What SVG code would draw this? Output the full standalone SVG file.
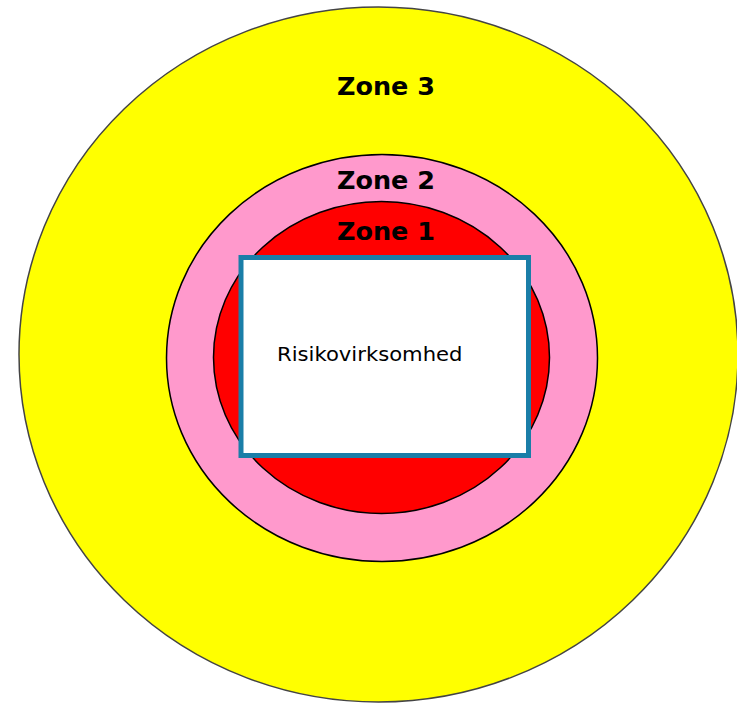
<svg xmlns="http://www.w3.org/2000/svg" width="737" height="703" viewBox="0 0 737 703">
<style>
.zone{font-family:"DejaVu Sans","Verdana",sans-serif;font-weight:bold;font-size:24px;fill:#000;text-anchor:middle}
.lbl{font-family:"DejaVu Sans","Verdana",sans-serif;font-size:20px;fill:#000}
</style>
<rect width="737" height="703" fill="#fff"/>
<g id="zone3">
<ellipse cx="378.5" cy="354.5" rx="359.5" ry="347.5" fill="#ffff00" stroke="#444" stroke-width="1.5"/>
<text class="zone" x="386" y="95" textLength="98" lengthAdjust="spacingAndGlyphs">Zone 3</text>
</g>
<g id="zone2">
<ellipse cx="382" cy="358" rx="215.5" ry="203.5" fill="#ff99cc" stroke="#000" stroke-width="1.5"/>
<text class="zone" x="386" y="188.5" textLength="98" lengthAdjust="spacingAndGlyphs">Zone 2</text>
</g>
<g id="zone1">
<ellipse cx="381.5" cy="357.5" rx="168" ry="156" fill="#ff0000" stroke="#000" stroke-width="1.5"/>
<text class="zone" x="386" y="240" textLength="98" lengthAdjust="spacingAndGlyphs">Zone 1</text>
</g>
<g id="risikovirksomhed">
<rect x="241" y="257.5" width="287.5" height="198" fill="#fff" stroke="#1a7ea8" stroke-width="5"/>
<text class="lbl" x="277" y="360.5" textLength="185.5" lengthAdjust="spacingAndGlyphs">Risikovirksomhed</text>
</g>
<g id="connectors"/>
</svg>
